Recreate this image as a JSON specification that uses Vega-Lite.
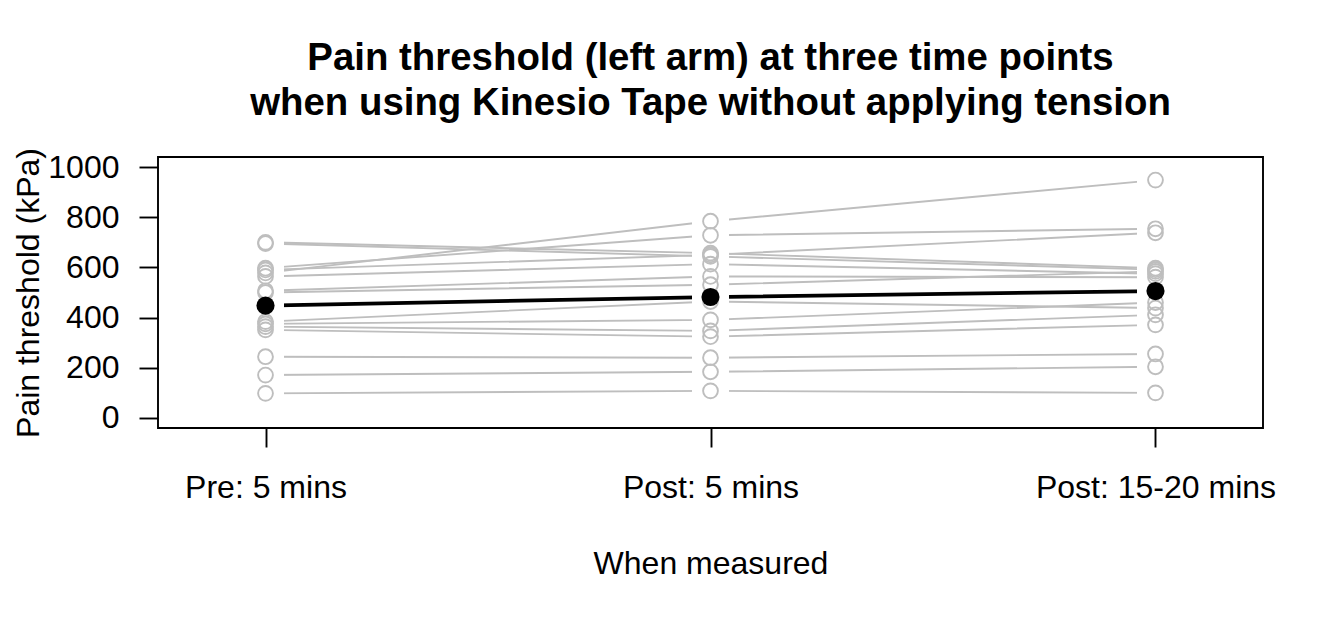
{
  "$schema": "https://vega.github.io/schema/vega-lite/v6.json",
  "width": 1105,
  "height": 271,
  "autosize": {"type": "none"},
  "padding": {"left": 158, "top": 157, "right": 81, "bottom": 196},
  "background": "white",
  "config": {
    "font": "Liberation Sans",
    "view": {"stroke": "black", "strokeWidth": 1.9},
    "axis": {
      "grid": false,
      "domain": false,
      "tickColor": "black",
      "tickWidth": 1.9,
      "tickSize": 19,
      "labelFontSize": 32,
      "labelColor": "black",
      "labelFont": "Liberation Sans",
      "labelFlush": false,
      "labelOverlap": false,
      "labelLimit": 0,
      "titleFontSize": 32,
      "titleFontWeight": "normal",
      "titleColor": "black",
      "titleFont": "Liberation Sans"
    }
  },
  "title": {
    "text": ["Pain threshold (left arm) at three time points", "when using Kinesio Tape without applying tension"],
    "fontSize": 38.4,
    "fontWeight": "bold",
    "font": "Liberation Sans",
    "lineHeight": 45,
    "anchor": "middle",
    "color": "black",
    "offset": 24
  },
  "data": {
    "values": [
      {"subject": 1, "time": "Pre: 5 mins", "value": 700},
      {"subject": 1, "time": "Post: 5 mins", "value": 657},
      {"subject": 1, "time": "Post: 15-20 mins", "value": 597},
      {"subject": 2, "time": "Pre: 5 mins", "value": 695},
      {"subject": 2, "time": "Post: 5 mins", "value": 644},
      {"subject": 2, "time": "Post: 15-20 mins", "value": 591},
      {"subject": 3, "time": "Pre: 5 mins", "value": 597},
      {"subject": 3, "time": "Post: 5 mins", "value": 728},
      {"subject": 3, "time": "Post: 15-20 mins", "value": 754},
      {"subject": 4, "time": "Pre: 5 mins", "value": 578},
      {"subject": 4, "time": "Post: 5 mins", "value": 784},
      {"subject": 4, "time": "Post: 15-20 mins", "value": 948},
      {"subject": 5, "time": "Pre: 5 mins", "value": 564},
      {"subject": 5, "time": "Post: 5 mins", "value": 613},
      {"subject": 5, "time": "Post: 15-20 mins", "value": 575},
      {"subject": 6, "time": "Pre: 5 mins", "value": 507},
      {"subject": 6, "time": "Post: 5 mins", "value": 564},
      {"subject": 6, "time": "Post: 15-20 mins", "value": 561},
      {"subject": 7, "time": "Pre: 5 mins", "value": 500},
      {"subject": 7, "time": "Post: 5 mins", "value": 531},
      {"subject": 7, "time": "Post: 15-20 mins", "value": 584},
      {"subject": 8, "time": "Pre: 5 mins", "value": 384},
      {"subject": 8, "time": "Post: 5 mins", "value": 464},
      {"subject": 8, "time": "Post: 15-20 mins", "value": 438},
      {"subject": 9, "time": "Pre: 5 mins", "value": 375},
      {"subject": 9, "time": "Post: 5 mins", "value": 391},
      {"subject": 9, "time": "Post: 15-20 mins", "value": 460},
      {"subject": 10, "time": "Pre: 5 mins", "value": 364},
      {"subject": 10, "time": "Post: 5 mins", "value": 347},
      {"subject": 10, "time": "Post: 15-20 mins", "value": 411},
      {"subject": 11, "time": "Pre: 5 mins", "value": 351},
      {"subject": 11, "time": "Post: 5 mins", "value": 324},
      {"subject": 11, "time": "Post: 15-20 mins", "value": 371},
      {"subject": 12, "time": "Pre: 5 mins", "value": 244},
      {"subject": 12, "time": "Post: 5 mins", "value": 240},
      {"subject": 12, "time": "Post: 15-20 mins", "value": 255},
      {"subject": 13, "time": "Pre: 5 mins", "value": 171},
      {"subject": 13, "time": "Post: 5 mins", "value": 184},
      {"subject": 13, "time": "Post: 15-20 mins", "value": 204},
      {"subject": 14, "time": "Pre: 5 mins", "value": 98},
      {"subject": 14, "time": "Post: 5 mins", "value": 108},
      {"subject": 14, "time": "Post: 15-20 mins", "value": 100},
      {"subject": 15, "time": "Pre: 5 mins", "value": 590},
      {"subject": 15, "time": "Post: 5 mins", "value": 650},
      {"subject": 15, "time": "Post: 15-20 mins", "value": 738}
    ]
  },
  "encoding": {
    "x": {
      "field": "time",
      "type": "nominal",
      "sort": null,
      "scale": {"type": "point", "domain": ["Pre: 5 mins", "Post: 5 mins", "Post: 15-20 mins"], "padding": 0.2416},
      "axis": {"title": "When measured", "labelAngle": 0, "labelPadding": 25, "titlePadding": 45}
    }
  },
  "layer": [
    {
      "mark": {"type": "line", "color": "#BEBEBE", "strokeWidth": 1.9},
      "encoding": {
        "y": {
          "field": "value",
          "type": "quantitative",
          "scale": {"domain": [-40, 1040], "nice": false, "zero": false},
          "axis": {"title": "Pain threshold (kPa)", "values": [0, 200, 400, 600, 800, 1000], "format": "d", "labelPadding": 20, "titlePadding": 2}
        },
        "detail": {"field": "subject", "type": "nominal"}
      }
    },
    {
      "mark": {"type": "line", "color": "black", "strokeWidth": 3.8},
      "encoding": {
        "y": {"aggregate": "mean", "field": "value", "type": "quantitative"}
      }
    },
    {
      "mark": {"type": "rule", "color": "white", "strokeWidth": 36, "strokeCap": "butt"},
      "encoding": {
        "y": {"datum": 40},
        "y2": {"datum": 1000}
      }
    },
    {
      "mark": {"type": "point", "shape": "circle", "filled": false, "color": "#BEBEBE", "strokeWidth": 1.9, "size": 220, "opacity": 1},
      "encoding": {
        "y": {"field": "value", "type": "quantitative"}
      }
    },
    {
      "mark": {"type": "point", "shape": "circle", "filled": true, "color": "black", "size": 330, "opacity": 1},
      "encoding": {
        "y": {"aggregate": "mean", "field": "value", "type": "quantitative"}
      }
    }
  ]
}
